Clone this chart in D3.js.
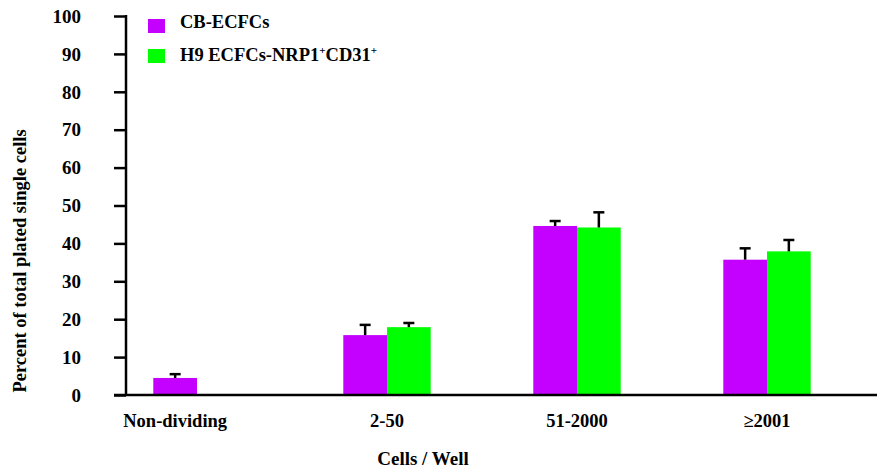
<!DOCTYPE html>
<html><head><meta charset="utf-8">
<script src="https://cdn.jsdelivr.net/npm/d3@7"></script>
<style>body{margin:0;background:#fff}svg{display:block}svg text{font-family:"Liberation Serif","Times New Roman",serif !important;font-weight:bold;fill:#000}</style>
</head><body>
<script>
const categories = ["Non-dividing", "2-50", "51-2000", "\u22652001"];
const seriesNames = ["CB-ECFCs", "H9 ECFCs-NRP1+CD31+"];
const cbValues = [4.5, 15.8, 44.6, 35.7];
const cbErrors = [1.0, 2.7, 1.3, 3.0];
const h9Values = [null, 17.9, 44.2, 37.9];
const h9Errors = [null, 1.1, 4.0, 3.0];
const yTicks = [0, 10, 20, 30, 40, 50, 60, 70, 80, 90, 100];
const colors = ["#C400FF", "#00FF00"];

const W = 877, H = 476;
const svg = d3.select("body").append("svg").attr("width", W).attr("height", H);

const y = d3.scaleLinear().domain([0, 100]).range([395, 16]);
const x = d3.scaleBand().domain(categories).range([102, 862]).paddingInner(0.54).paddingOuter(0.27);
const xs = d3.scaleBand().domain([0, 1]).range([0, x.bandwidth()]);

// bars
const series = [cbValues, h9Values];
const errs = [cbErrors, h9Errors];
series.forEach((vals, si) => {
  const data = categories.map((c, i) => ({c, v: vals[i], e: errs[si][i]})).filter(d => d.v != null);
  const g = svg.append("g");
  g.selectAll("rect").data(data).join("rect")
    .attr("x", d => x(d.c) + xs(si))
    .attr("y", d => y(d.v))
    .attr("width", xs.bandwidth())
    .attr("height", d => y(0) - y(d.v))
    .attr("fill", colors[si]);
  data.forEach(d => {
    const cx = x(d.c) + xs(si) + xs.bandwidth() / 2;
    g.append("line").attr("x1", cx).attr("x2", cx).attr("y1", y(d.v)).attr("y2", y(d.v + d.e))
      .attr("stroke", "#000").attr("stroke-width", 2.5);
    g.append("line").attr("x1", cx - 5.5).attr("x2", cx + 5.5).attr("y1", y(d.v + d.e)).attr("y2", y(d.v + d.e))
      .attr("stroke", "#000").attr("stroke-width", 2.5);
  });
});

// y axis
const yAxis = d3.axisLeft(y).tickValues(yTicks).tickSize(12).tickPadding(33);
const ga = svg.append("g").attr("transform", "translate(126,0)").call(yAxis).attr("font-family", null).attr("font-size", null);
ga.select(".domain").remove();
ga.selectAll(".tick line").attr("stroke", "#000").attr("stroke-width", 2.5);
ga.selectAll(".tick text").style("font-size", "19px").attr("dy", "0.33em");
svg.append("line").attr("x1", 126).attr("x2", 126).attr("y1", y(100) - 1).attr("y2", y(0))
  .attr("stroke", "#000").attr("stroke-width", 2.5);

// x axis line
svg.append("line").attr("x1", 114).attr("x2", 877).attr("y1", y(0)).attr("y2", y(0))
  .attr("stroke", "#000").attr("stroke-width", 2.5);

// x tick labels (centred on the bars actually present in each group)
const xAxis = d3.axisBottom(x).tickSize(0).tickPadding(18.5);
const gx = svg.append("g").attr("transform", `translate(0,${y(0)})`).call(xAxis).attr("font-family", null).attr("font-size", null);
gx.select(".domain").remove();
gx.selectAll(".tick text").style("font-size", "18.5px")
  .attr("x", (c, i) => {
    const present = [cbValues[i], h9Values[i]].map((v, si) => v != null ? si : null).filter(s => s != null);
    const mid = d3.mean(present, s => xs(s) + xs.bandwidth() / 2);
    return x(c) + mid - (x(c) + x.bandwidth() / 2);
  });

// axis titles
svg.append("text").attr("x", 423).attr("y", 465).attr("text-anchor", "middle")
  .style("font-size", "19px").text("Cells / Well");
svg.append("text").attr("transform", "translate(26,261) rotate(-90)").attr("text-anchor", "middle")
  .style("font-size", "18.5px").text("Percent of total plated single cells");

// legend
const leg = svg.append("g");
seriesNames.forEach((n, i) => {
  leg.append("rect").attr("x", 148).attr("y", 19 + i * 30).attr("width", 17).attr("height", 14).attr("fill", colors[i]);
});
leg.append("text").attr("x", 180).attr("y", 28).style("font-size", "18.5px").text(seriesNames[0]);
const t2 = leg.append("text").attr("x", 180).attr("y", 61).style("font-size", "18.5px");
t2.append("tspan").text("H9 ECFCs-NRP1");
t2.append("tspan").attr("dy", -7).style("font-size", "11px").text("+");
t2.append("tspan").attr("dy", 7).text("CD31");
t2.append("tspan").attr("dy", -7).style("font-size", "11px").text("+");
</script>
</body></html>
